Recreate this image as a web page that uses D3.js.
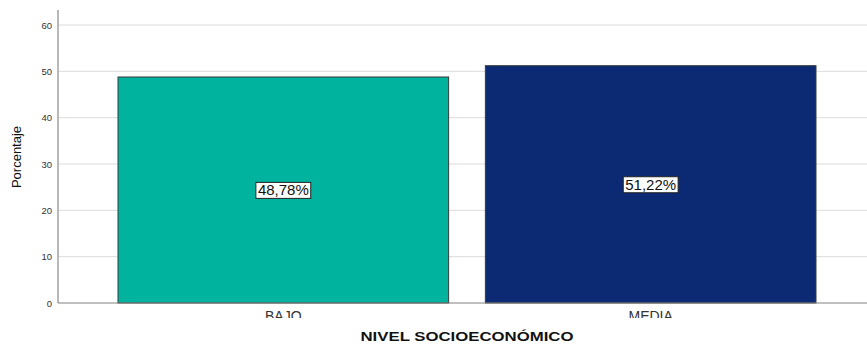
<!DOCTYPE html>
<html>
<head>
<meta charset="utf-8">
<script src="https://cdn.jsdelivr.net/npm/d3@7"></script>
<style>
  body { margin: 0; background: #fff; }
  svg { display: block; font-family: "Liberation Sans", Arial, sans-serif; }
</style>
</head>
<body>
<div id="vis1"></div>
<script>
// data
const CATEGORIES = ["BAJO", "MEDIA"];
const VALUES = [48.78, 51.22];
const LABELS = ["48,78%", "51,22%"];
const Y_TICKS = [0, 10, 20, 30, 40, 50, 60];
const COLORS = ["#00B39F", "#0B2A73"];

//create frame
const FRAME_HEIGHT = 345;
const FRAME_WIDTH = 867;
const MARGINS = {left: 58, right: 0, top: 25, bottom: 42};

const VIS_HEIGHT = FRAME_HEIGHT - MARGINS.top - MARGINS.bottom;
const VIS_WIDTH = FRAME_WIDTH - MARGINS.left - MARGINS.right;

const FRAME1 = d3.select("#vis1")
                  .append("svg")
                    .attr("height", FRAME_HEIGHT)
                    .attr("width", FRAME_WIDTH);

const X_SCALE = d3.scaleBand()
                .domain(CATEGORIES)
                .range([60, 758])
                .paddingInner(0.1);
const Y_SCALE = d3.scaleLinear()
                .domain([0, 60])
                .range([VIS_HEIGHT, 0]);

const G = FRAME1.append("g")
    .attr("transform", "translate(" + MARGINS.left + "," + MARGINS.top + ")");

// gridlines
G.selectAll(".grid")
    .data(Y_TICKS.filter(d => d > 0))
    .enter()
    .append("line")
      .attr("x1", 0)
      .attr("x2", VIS_WIDTH)
      .attr("y1", d => Y_SCALE(d))
      .attr("y2", d => Y_SCALE(d))
      .attr("stroke", "#dcdcdc")
      .attr("stroke-width", 1);

// bars
G.selectAll(".bar")
    .data(VALUES)
    .enter()
    .append("rect")
      .attr("x", (d, i) => X_SCALE(CATEGORIES[i]))
      .attr("y", d => Y_SCALE(d))
      .attr("width", X_SCALE.bandwidth())
      .attr("height", d => VIS_HEIGHT - Y_SCALE(d))
      .attr("fill", (d, i) => COLORS[i])
      .attr("stroke", "#3a3a3a")
      .attr("stroke-width", 1);

// y axis
const yAxis = G.append("g")
    .call(d3.axisLeft(Y_SCALE).tickValues(Y_TICKS).tickSize(0).tickPadding(6));
yAxis.select(".domain").remove();
yAxis.selectAll("text")
    .attr("font-size", "9.5px")
    .attr("fill", "#333")
    .attr("font-family", "Liberation Sans, Arial, sans-serif");

G.append("line")
    .attr("x1", 0).attr("x2", 0)
    .attr("y1", -15).attr("y2", VIS_HEIGHT)
    .attr("stroke", "#a0a0a0")
    .attr("stroke-width", 1.5);
G.append("line")
    .attr("x1", 0).attr("x2", VIS_WIDTH)
    .attr("y1", VIS_HEIGHT).attr("y2", VIS_HEIGHT)
    .attr("stroke", "#808080")
    .attr("stroke-width", 1);

// value labels
const lab = G.selectAll(".lab")
    .data(VALUES)
    .enter()
    .append("g")
      .attr("transform", (d, i) => "translate(" + (X_SCALE(CATEGORIES[i]) + X_SCALE.bandwidth() / 2)
            + "," + (Y_SCALE(d) + (VIS_HEIGHT - Y_SCALE(d)) / 2) + ")");
lab.append("text")
    .attr("text-anchor", "middle")
    .attr("dy", "0.36em")
    .attr("font-size", "15px")
    .attr("fill", "#111")
    .text((d, i) => LABELS[i]);
lab.each(function() {
  const g = d3.select(this);
  const bb = g.select("text").node().getBBox();
  g.insert("rect", "text")
    .attr("x", bb.x - 2)
    .attr("y", bb.y + 1)
    .attr("width", bb.width + 4)
    .attr("height", bb.height - 1)
    .attr("fill", "#fff")
    .attr("stroke", "#222")
    .attr("stroke-width", 1);
});

// x labels, clipped at the bottom as in the original
G.append("clipPath").attr("id", "xclip")
  .append("rect").attr("x", 0).attr("y", 0).attr("width", VIS_WIDTH).attr("height", 293);
G.append("g")
    .attr("clip-path", "url(#xclip)")
  .selectAll(".xl")
    .data(CATEGORIES)
    .enter()
    .append("text")
      .attr("x", d => X_SCALE(d) + X_SCALE.bandwidth() / 2)
      .attr("y", VIS_HEIGHT + 18)
      .attr("text-anchor", "middle")
      .attr("font-size", "14px")
      .attr("fill", "#333")
      .text(d => d);

// axis titles
FRAME1.append("text")
    .attr("x", 467)
    .attr("y", 341)
    .attr("text-anchor", "middle")
    .attr("font-size", "13px")
    .attr("font-weight", "bold")
    .attr("textLength", 213)
    .attr("lengthAdjust", "spacingAndGlyphs")
    .attr("fill", "#111")
    .text("NIVEL SOCIOECONÓMICO");

FRAME1.append("text")
    .attr("transform", "translate(21,157) rotate(-90)")
    .attr("text-anchor", "middle")
    .attr("font-size", "13px")
    .attr("font-family", "Liberation Sans Narrow, Liberation Sans, Arial, sans-serif")
    .attr("fill", "#111")
    .text("Porcentaje");
</script>
</body>
</html>
